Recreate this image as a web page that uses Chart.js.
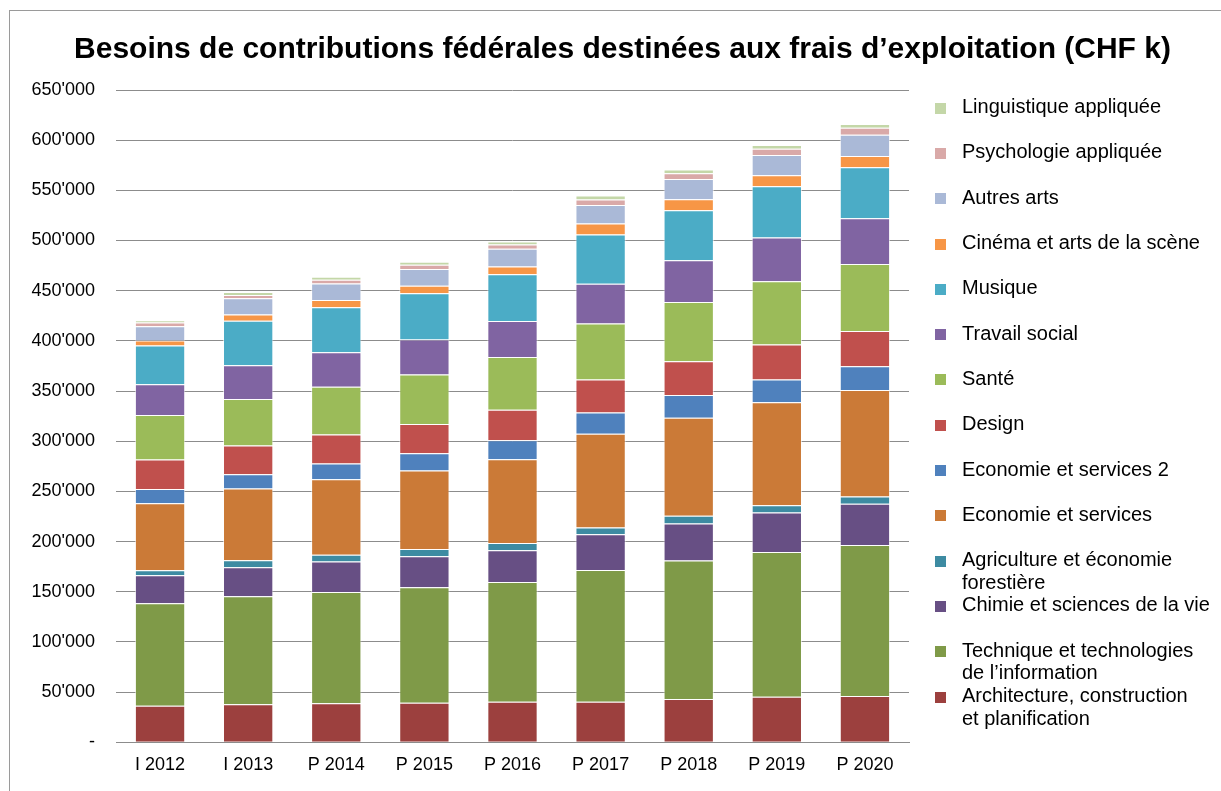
<!DOCTYPE html>
<html>
<head>
<meta charset="utf-8">
<script src="https://cdn.jsdelivr.net/npm/chart.js@4.4.0/dist/chart.umd.min.js"></script>
<style>
  html, body { margin: 0; padding: 0; background: #fff; overflow: hidden; }
  #wrap { position: relative; width: 1221px; height: 791px; font-family: 'Liberation Sans', Arial, sans-serif; }
  #frame { position: absolute; left: 9px; top: 10px; width: 1300px; height: 900px; border-left: 1px solid #9a9a9a; border-top: 1px solid #9a9a9a; }
  #title { position: absolute; left: 0; top: 33px; width: 1245px; text-align: center; font-size: 30px; line-height: 30px; font-weight: bold; color: #000; white-space: nowrap; }
  #legend { position: absolute; left: 0; top: 0; }
  .item { position: absolute; left: 935px; font-size: 20px; line-height: 22.5px; color: #000; white-space: nowrap; }
  .item .box { position: absolute; left: 0; top: 7.5px; width: 11px; height: 11px; }
  .item .txt { position: absolute; left: 27px; top: 0; }
  canvas { position: absolute; left: 0; top: 0; }
</style>
</head>
<body>
<div id="wrap">
  <div id="frame"></div>
  <canvas id="chart" width="1221" height="791"></canvas>
  <div id="title">Besoins de contributions fédérales destinées aux frais d’exploitation (CHF k)</div>
  <div id="legend"></div>
</div>
<script>
// années
const categories = ['I 2012', 'I 2013', 'P 2014', 'P 2015', 'P 2016', 'P 2017', 'P 2018', 'P 2019', 'P 2020'];

// CHF k
const architecture = [36500, 37900, 38900, 39500, 40500, 40500, 43200, 45300, 46100];
const technique = [102000, 107600, 110900, 115000, 119300, 131300, 138000, 144300, 150600];
const chimie = [27900, 28900, 30300, 30900, 31600, 35600, 36900, 39400, 41100];
const agriculture = [5000, 7000, 6900, 7300, 7300, 6600, 7600, 7200, 7200];
const economie = [66800, 71400, 75100, 78100, 83400, 93400, 97700, 102700, 106100];
const economie2 = [14300, 14300, 15600, 17200, 19000, 21300, 22700, 22700, 23500];
const design = [29200, 28600, 28900, 29300, 30200, 32900, 33500, 34800, 35200];
const sante = [44500, 46500, 47600, 49100, 52600, 55800, 59200, 62900, 66700];
const travailSocial = [30600, 33500, 34500, 34900, 35900, 39600, 41500, 43600, 45700];
const musique = [38500, 44400, 44700, 46100, 46700, 49000, 49900, 51200, 50800];
const cinema = [5000, 6300, 7300, 7600, 7700, 10900, 10900, 10900, 11300];
const autresArts = [14300, 16000, 16600, 16600, 17500, 18600, 20100, 20200, 21000];
const psychologie = [3700, 3300, 3700, 4300, 4300, 5400, 5900, 6200, 7100];
const linguistique = [2300, 3000, 3000, 3000, 3000, 4000, 3800, 3800, 3800];

// axe y
const yTicks = [0, 50000, 100000, 150000, 200000, 250000, 300000, 350000, 400000, 450000, 500000, 550000, 600000, 650000];

const series = [
  { label: ['Architecture, construction', 'et planification'], data: architecture, color: '#9C403E' },
  { label: ['Technique et technologies', 'de l’information'], data: technique, color: '#7F9A48' },
  { label: ['Chimie et sciences de la vie'], data: chimie, color: '#674F84' },
  { label: ['Agriculture et économie', 'forestière'], data: agriculture, color: '#3D8BA2' },
  { label: ['Economie et services'], data: economie, color: '#CB7A37' },
  { label: ['Economie et services 2'], data: economie2, color: '#4F81BD' },
  { label: ['Design'], data: design, color: '#C0504D' },
  { label: ['Santé'], data: sante, color: '#9BBB59' },
  { label: ['Travail social'], data: travailSocial, color: '#8064A2' },
  { label: ['Musique'], data: musique, color: '#4BACC6' },
  { label: ['Cinéma et arts de la scène'], data: cinema, color: '#F79646' },
  { label: ['Autres arts'], data: autresArts, color: '#AAB9D7' },
  { label: ['Psychologie appliquée'], data: psychologie, color: '#D9A9A8' },
  { label: ['Linguistique appliquée'], data: linguistique, color: '#C4D7A8' }
];

function fmt(v) {
  if (v === 0) return '-';
  return String(v).replace(/\B(?=(\d{3})+(?!\d))/g, "'");
}

const font = { family: "'Liberation Sans', Arial, sans-serif", size: 18 };

const chart = new Chart(document.getElementById('chart'), {
  type: 'bar',
  data: {
    labels: categories,
    datasets: series.map(s => ({
      label: s.label.join(' '),
      data: s.data,
      backgroundColor: s.color,
      borderColor: 'rgba(255,255,255,0.6)',
      borderWidth: 1,
      categoryPercentage: 1,
      barPercentage: 0.571
    }))
  },
  options: {
    responsive: false,
    animation: false,
    layout: { padding: { left: 0, right: 312, top: 90, bottom: 0 } },
    plugins: { legend: { display: false }, title: { display: false }, tooltip: { enabled: false } },
    scales: {
      x: {
        stacked: true,
        grid: { display: false, drawTicks: false },
        border: { color: '#8c8c8c', width: 1 },
        ticks: { color: '#000', font: font, padding: 12, maxRotation: 0 },
        afterFit: s => { s.height = 48.7; }
      },
      y: {
        stacked: true,
        min: 0,
        max: 650000,
        afterBuildTicks: s => { s.ticks = yTicks.map(v => ({ value: v })); },
        grid: { color: '#8c8c8c', lineWidth: 1, drawTicks: false },
        border: { display: false },
        ticks: { color: '#000', font: font, padding: 21, callback: v => fmt(v) },
        afterFit: s => { s.width = 116; }
      }
    }
  }
});

// légende à droite
const legend = document.getElementById('legend');
chart.data.datasets.slice().reverse().forEach((ds, i) => {
  const s = series[series.length - 1 - i];
  const item = document.createElement('div');
  item.className = 'item';
  item.style.top = (95.1 + i * 45.3) + 'px';
  const box = document.createElement('div');
  box.className = 'box';
  box.style.background = ds.backgroundColor;
  const txt = document.createElement('div');
  txt.className = 'txt';
  txt.innerHTML = s.label.join('<br>');
  item.appendChild(box);
  item.appendChild(txt);
  legend.appendChild(item);
});
</script>
</body>
</html>
